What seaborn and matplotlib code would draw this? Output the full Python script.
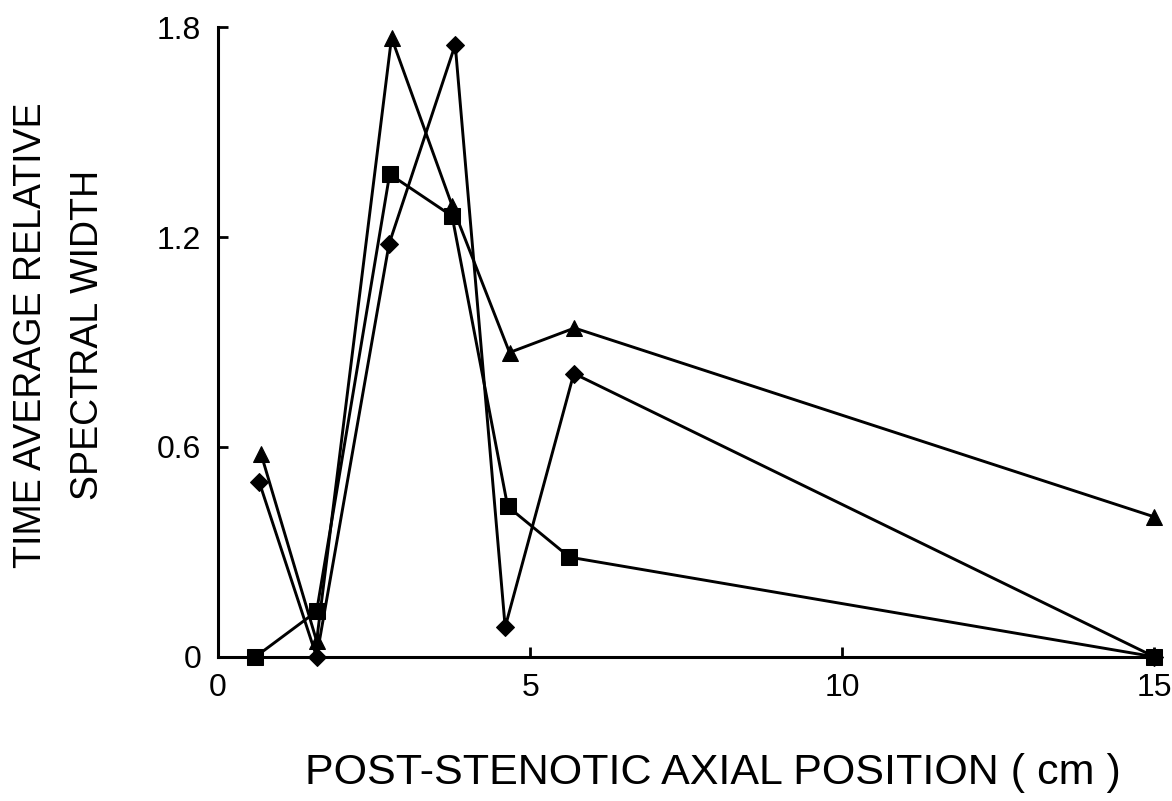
import matplotlib
matplotlib.use("Agg")
import matplotlib.pyplot as plt
import seaborn as sns
import pandas as pd

# Axial positions (cm) and time-averaged relative spectral width per series
tri_x = [0.69, 1.58, 2.78, 3.75, 4.67, 5.71, 15.0]
tri_y = [0.58, 0.045, 1.77, 1.29, 0.87, 0.94, 0.40]

sq_x = [0.60, 1.58, 2.75, 3.75, 4.64, 5.63, 15.0]
sq_y = [0.0, 0.13, 1.38, 1.26, 0.43, 0.285, 0.0]

dia_x = [0.66, 1.58, 2.74, 3.80, 4.60, 5.70, 15.0]
dia_y = [0.50, 0.0, 1.18, 1.75, 0.085, 0.81, 0.0]

x_ticks = [0, 5, 10, 15]
y_ticks = [0, 0.6, 1.2, 1.8]
y_tick_labels = ["0", "0.6", "1.2", "1.8"]

sns.set_theme(style="ticks")
plt.rcParams["font.family"] = ["Liberation Sans", "DejaVu Sans"]

fig = plt.figure(figsize=(11.72, 8.01), dpi=100)
ax = fig.add_axes([0.186, 0.18, 0.799, 0.786])

series = [
    (tri_x, tri_y, "^", 12),
    (sq_x, sq_y, "s", 11),
    (dia_x, dia_y, "D", 9.5),
]
for xs, ys, mk, ms in series:
    df = pd.DataFrame({"x": xs, "y": ys})
    sns.lineplot(data=df, x="x", y="y", ax=ax, sort=False, color="black",
                 linewidth=2.1, marker=mk, markersize=ms,
                 markerfacecolor="black", markeredgecolor="black",
                 clip_on=False, zorder=3)

ax.set_xlim(0, 15)
ax.set_ylim(0, 1.8)
ax.set_xticks(x_ticks)
ax.set_yticks(y_ticks)
ax.set_yticklabels(y_tick_labels)
ax.tick_params(direction="in", length=7, width=2, labelsize=23, colors="black")
ax.tick_params(axis="y", pad=12)
ax.tick_params(axis="x", pad=12)

for side in ["top", "right"]:
    ax.spines[side].set_visible(False)
for side in ["left", "bottom"]:
    ax.spines[side].set_linewidth(2.2)
    ax.spines[side].set_color("black")

ax.set_xlabel("POST-STENOTIC AXIAL POSITION ( cm )", fontsize=31, color="black")
ax.xaxis.set_label_coords(0.529, -0.152)
ax.set_ylabel("TIME AVERAGE RELATIVE\nSPECTRAL WIDTH", fontsize=27, linespacing=1.75, color="black")
ax.yaxis.set_label_coords(-0.1195, 0.511)

fig.savefig("out.png", dpi=100, facecolor="white")
